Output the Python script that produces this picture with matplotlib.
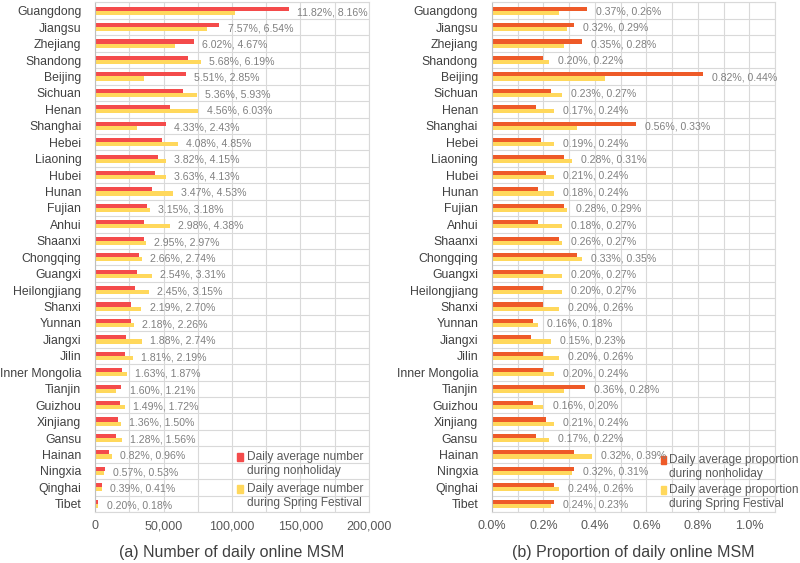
import matplotlib
matplotlib.use("Agg")
import matplotlib.pyplot as plt
import matplotlib.ticker as ticker
from matplotlib.patches import Rectangle
import numpy as np

plt.rcParams['font.family'] = ['Liberation Sans', 'DejaVu Sans']

provinces = ["Guangdong", "Jiangsu", "Zhejiang", "Shandong", "Beijing", "Sichuan",
             "Henan", "Shanghai", "Hebei", "Liaoning", "Hubei", "Hunan", "Fujian",
             "Anhui", "Shaanxi", "Chongqing", "Guangxi", "Heilongjiang", "Shanxi",
             "Yunnan", "Jiangxi", "Jilin", "Inner Mongolia", "Tianjin", "Guizhou",
             "Xinjiang", "Gansu", "Hainan", "Ningxia", "Qinghai", "Tibet"]

# (a) daily average number of online MSM
num_nonholiday = [141840, 90840, 72240, 68160, 66120, 64320, 54720, 51960, 48960,
                  45840, 43560, 41640, 37800, 35760, 35400, 31920, 30480, 29400,
                  26280, 26160, 22560, 21720, 19560, 19200, 17880, 16320, 15360,
                  9840, 6840, 4680, 2400]
num_spring = [102000, 81750, 58375, 77375, 35625, 74125, 75375, 30375, 60625,
              51875, 51625, 56625, 39750, 54750, 37125, 34250, 41375, 39375,
              33750, 28250, 34250, 27375, 23375, 15125, 21500, 18750, 19500,
              12000, 6625, 5125, 2250]
share_nonholiday = ["11.82%", "7.57%", "6.02%", "5.68%", "5.51%", "5.36%", "4.56%",
                    "4.33%", "4.08%", "3.82%", "3.63%", "3.47%", "3.15%", "2.98%",
                    "2.95%", "2.66%", "2.54%", "2.45%", "2.19%", "2.18%", "1.88%",
                    "1.81%", "1.63%", "1.60%", "1.49%", "1.36%", "1.28%", "0.82%",
                    "0.57%", "0.39%", "0.20%"]
share_spring = ["8.16%", "6.54%", "4.67%", "6.19%", "2.85%", "5.93%", "6.03%",
                "2.43%", "4.85%", "4.15%", "4.13%", "4.53%", "3.18%", "4.38%",
                "2.97%", "2.74%", "3.31%", "3.15%", "2.70%", "2.26%", "2.74%",
                "2.19%", "1.87%", "1.21%", "1.72%", "1.50%", "1.56%", "0.96%",
                "0.53%", "0.41%", "0.18%"]

# (b) daily average proportion of online MSM (%)
prop_nonholiday = [0.37, 0.32, 0.35, 0.20, 0.82, 0.23, 0.17, 0.56, 0.19, 0.28, 0.21,
                   0.18, 0.28, 0.18, 0.26, 0.33, 0.20, 0.20, 0.20, 0.16, 0.15, 0.20,
                   0.20, 0.36, 0.16, 0.21, 0.17, 0.32, 0.32, 0.24, 0.24]
prop_spring = [0.26, 0.29, 0.28, 0.22, 0.44, 0.27, 0.24, 0.33, 0.24, 0.31, 0.24,
               0.24, 0.29, 0.27, 0.27, 0.35, 0.27, 0.27, 0.26, 0.18, 0.23, 0.26,
               0.24, 0.28, 0.20, 0.24, 0.22, 0.39, 0.31, 0.26, 0.23]

legend_a = [["Daily average number", "during nonholiday"],
            ["Daily average number", "during Spring Festival"]]
legend_b = [["Daily average proportion", "during nonholiday"],
            ["Daily average proportion", "during Spring Festival"]]

RED_A = "#F44B4B"
RED_B = "#EE5A28"
YELLOW = "#FFD85C"
GRID = "#D9D9D9"

fig = plt.figure(figsize=(8, 5.63), dpi=100)
ax1 = fig.add_axes([0.119, 0.0906, 0.342, 0.905])
ax2 = fig.add_axes([0.615, 0.0906, 0.354, 0.905])

y = np.arange(len(provinces))
h = 0.25


def style(ax, xmax, major, minor):
    ax.set_ylim(len(provinces) - 0.5, -0.5)
    ax.set_xlim(0, xmax)
    ax.set_yticks(y)
    ax.set_yticklabels(provinces, fontsize=8.8, color="#404040")
    ax.yaxis.set_minor_locator(ticker.FixedLocator(np.arange(-0.5, len(provinces), 1)))
    ax.xaxis.set_major_locator(ticker.MultipleLocator(major))
    ax.xaxis.set_minor_locator(ticker.MultipleLocator(minor))
    ax.grid(which="minor", color=GRID, lw=0.8)
    ax.grid(which="major", axis="x", color=GRID, lw=0.8)
    ax.tick_params(which="both", length=0)
    ax.tick_params(axis="y", pad=10)
    ax.tick_params(axis="x", labelsize=9, labelcolor="#595959", pad=6)
    ax.set_axisbelow(True)
    for s in ax.spines.values():
        s.set_color(GRID)
        s.set_linewidth(0.8)
    ax.spines["left"].set_color("#BFBFBF")


def legend(ax, entries, colors, x0, ys, gap):
    # hand-made legend: square marker beside the first line of each entry
    for (l1, l2), c, yy in zip(entries, colors, ys):
        ax.add_patch(Rectangle((x0, yy - 0.008), 0.019, 0.016, color=c,
                               transform=ax.transAxes, clip_on=False))
        ax.text(x0 + gap, yy, l1, transform=ax.transAxes, va="center", ha="left",
                fontsize=8.6, color="#595959", clip_on=False)
        ax.text(x0 + gap, yy - 0.0275, l2, transform=ax.transAxes, va="center",
                ha="left", fontsize=8.6, color="#595959", clip_on=False)


# panel (a)
ax1.barh(y - h / 2, num_nonholiday, height=h, color=RED_A)
ax1.barh(y + h / 2, num_spring, height=h, color=YELLOW)
style(ax1, 200000, 50000, 25000)
ax1.xaxis.set_major_formatter(ticker.FuncFormatter(lambda v, p: f"{v:,.0f}"))
for i in range(len(provinces)):
    ax1.text(max(num_nonholiday[i], num_spring[i]) + 6000, i + 0.08,
             f"{share_nonholiday[i]}, {share_spring[i]}",
             va="center", ha="left", fontsize=7.6, color="#808080")
ax1.set_xlabel("(a) Number of daily online MSM", fontsize=11.5, color="#404040", labelpad=9)
legend(ax1, legend_a, [RED_A, YELLOW], 0.52, [0.108, 0.045], 0.033)

# panel (b)
ax2.barh(y - h / 2, prop_nonholiday, height=h, color=RED_B)
ax2.barh(y + h / 2, prop_spring, height=h, color=YELLOW)
style(ax2, 1.1, 0.2, 0.1)
ax2.xaxis.set_major_formatter(ticker.FuncFormatter(lambda v, p: f"{v:.1f}%"))
for i in range(len(provinces)):
    ax2.text(max(prop_nonholiday[i], prop_spring[i]) + 0.035, i + 0.05,
             f"{prop_nonholiday[i]:.2f}%, {prop_spring[i]:.2f}%",
             va="center", ha="left", fontsize=7.6, color="#808080")
ax2.set_xlabel("(b) Proportion of daily online MSM", fontsize=11.5, color="#404040", labelpad=9)
legend(ax2, legend_b, [RED_B, YELLOW], 0.595, [0.102, 0.043], 0.03)

fig.savefig("out.png", dpi=100)
